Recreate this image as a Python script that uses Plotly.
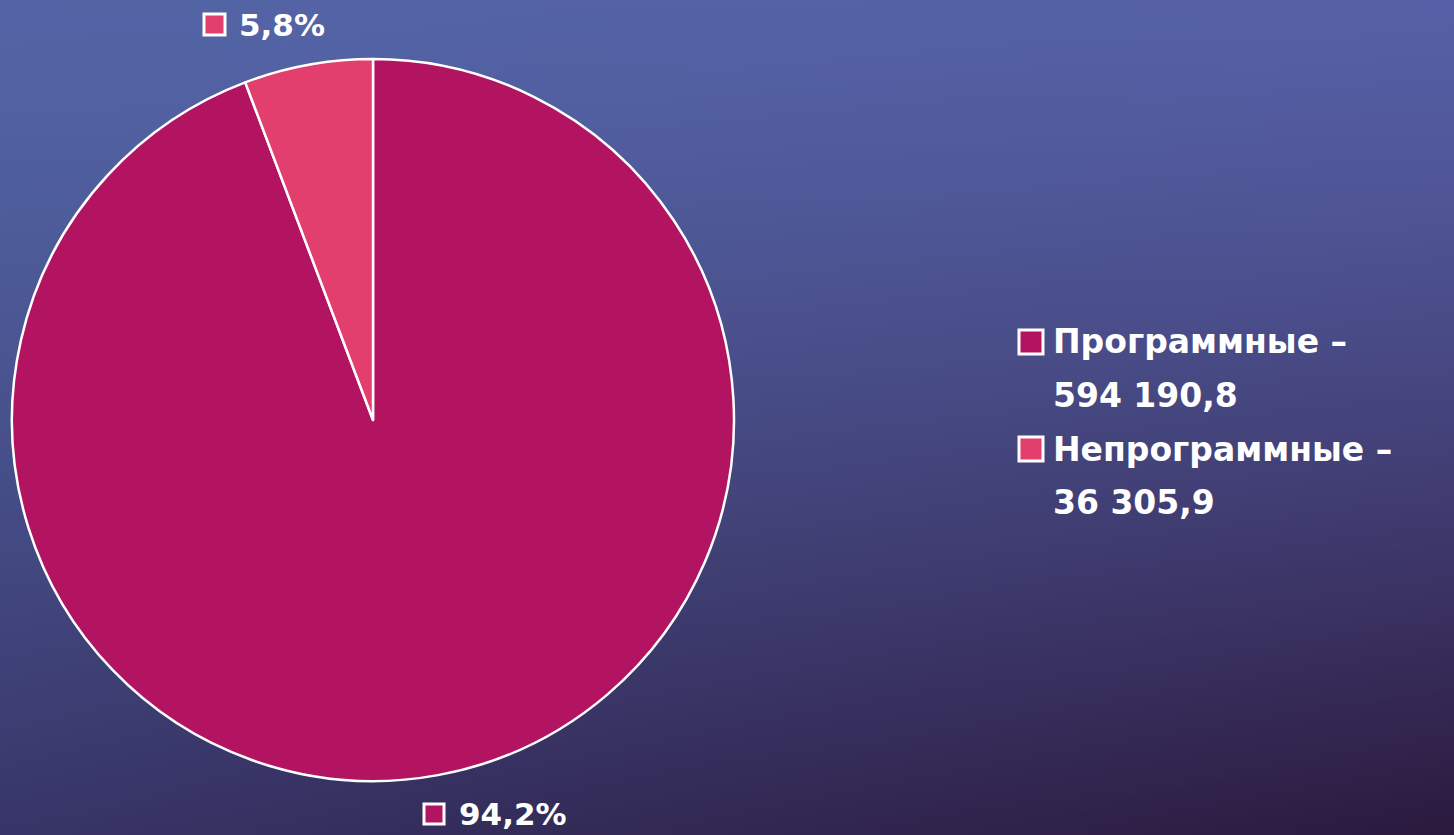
import base64, struct, zlib
import numpy as np
import plotly.graph_objects as go

# ---- data ----
categories = ["Программные", "Непрограммные"]
values = [594190.8, 36305.9]
value_labels = ["594 190,8", "36 305,9"]
slice_colors = ["#B31462", "#E23E6E"]

W, H = 1454, 835

# ---- background gradient image ----
def make_png(w, h):
    ys = np.linspace(0, 1, h)[:, None]
    xs = np.linspace(0, 1, w)[None, :]
    tl = np.array([83, 101, 166.0]); tr = np.array([86, 96, 166.0])
    bl = np.array([56, 54, 104.0]); br = np.array([44, 26, 62.0])
    yy = ys ** 1.3
    top = tl[None, None, :] * (1 - xs[..., None]) + tr[None, None, :] * xs[..., None]
    bot = bl[None, None, :] * (1 - xs[..., None]) + br[None, None, :] * xs[..., None]
    img = top * (1 - yy[..., None]) + bot * yy[..., None]
    img = np.clip(img, 0, 255).astype(np.uint8)
    raw = b"".join(b"\x00" + img[r].tobytes() for r in range(h))
    def chunk(t, d):
        c = struct.pack(">I", len(d)) + t + d
        return c + struct.pack(">I", zlib.crc32(t + d) & 0xffffffff)
    png = b"\x89PNG\r\n\x1a\n" + chunk(b"IHDR", struct.pack(">IIBBBBB", w, h, 8, 2, 0, 0, 0))
    png += chunk(b"IDAT", zlib.compress(raw, 9)) + chunk(b"IEND", b"")
    return "data:image/png;base64," + base64.b64encode(png).decode()

bg = make_png(364, 209)

def px(x):
    return x / W

def py(y):
    return 1 - y / H

cx, cy, r = 373, 420, 361

fig = go.Figure()
fig.add_trace(go.Pie(
    labels=categories, values=values, sort=False, direction="clockwise", rotation=0,
    marker=dict(colors=slice_colors, line=dict(color="white", width=2.5)),
    textinfo="none", hoverinfo="label+value+percent", showlegend=False,
    domain=dict(x=[px(cx - r), px(cx + r)], y=[py(cy + r), py(cy - r)]),
))

total = sum(values)
pct = [f"{v / total * 100:.1f}%".replace(".", ",") for v in values]

font = dict(family="DejaVu Sans", size=31, color="white")
leg_font = dict(family="DejaVu Sans", size=33, color="white")
shapes = []
annotations = []

def square(x0, y0, size, color):
    shapes.append(dict(type="rect", xref="paper", yref="paper",
                       x0=px(x0), x1=px(x0 + size), y0=py(y0 + size), y1=py(y0),
                       fillcolor=color, line=dict(color="white", width=3)))

# data labels
square(204, 14, 21, slice_colors[1])
annotations.append(dict(x=px(237), y=py(25), xref="paper", yref="paper", xanchor="left",
                        yanchor="middle", text=f"<b>{pct[1]}</b>", showarrow=False, font=font))
square(424, 804, 20, slice_colors[0])
annotations.append(dict(x=px(457), y=py(814), xref="paper", yref="paper", xanchor="left",
                        yanchor="middle", text=f"<b>{pct[0]}</b>", showarrow=False, font=font))

# legend
leg_y = [342, 449]
for i, name in enumerate(categories):
    square(1019, leg_y[i] - 12, 24, slice_colors[i])
    annotations.append(dict(x=px(1051), y=py(leg_y[i]), xref="paper", yref="paper",
                            xanchor="left", yanchor="middle",
                            text=f"<b>{name} –</b>", showarrow=False, font=leg_font))
    annotations.append(dict(x=px(1051), y=py(leg_y[i] + 53), xref="paper", yref="paper",
                            xanchor="left", yanchor="middle",
                            text=f"<b>{value_labels[i]}</b>", showarrow=False, font=leg_font))

fig.update_layout(
    width=W, height=H, margin=dict(l=0, r=0, t=0, b=0),
    paper_bgcolor="#4a4f8f", plot_bgcolor="rgba(0,0,0,0)",
    images=[dict(source=bg, xref="paper", yref="paper", x=0, y=1, sizex=1, sizey=1,
                 xanchor="left", yanchor="top", sizing="stretch", layer="below")],
    shapes=shapes, annotations=annotations,
)
fig.write_html("out.html", config={"displayModeBar": False},
               post_script="document.body.style.margin='0';document.body.style.overflow='hidden';")
